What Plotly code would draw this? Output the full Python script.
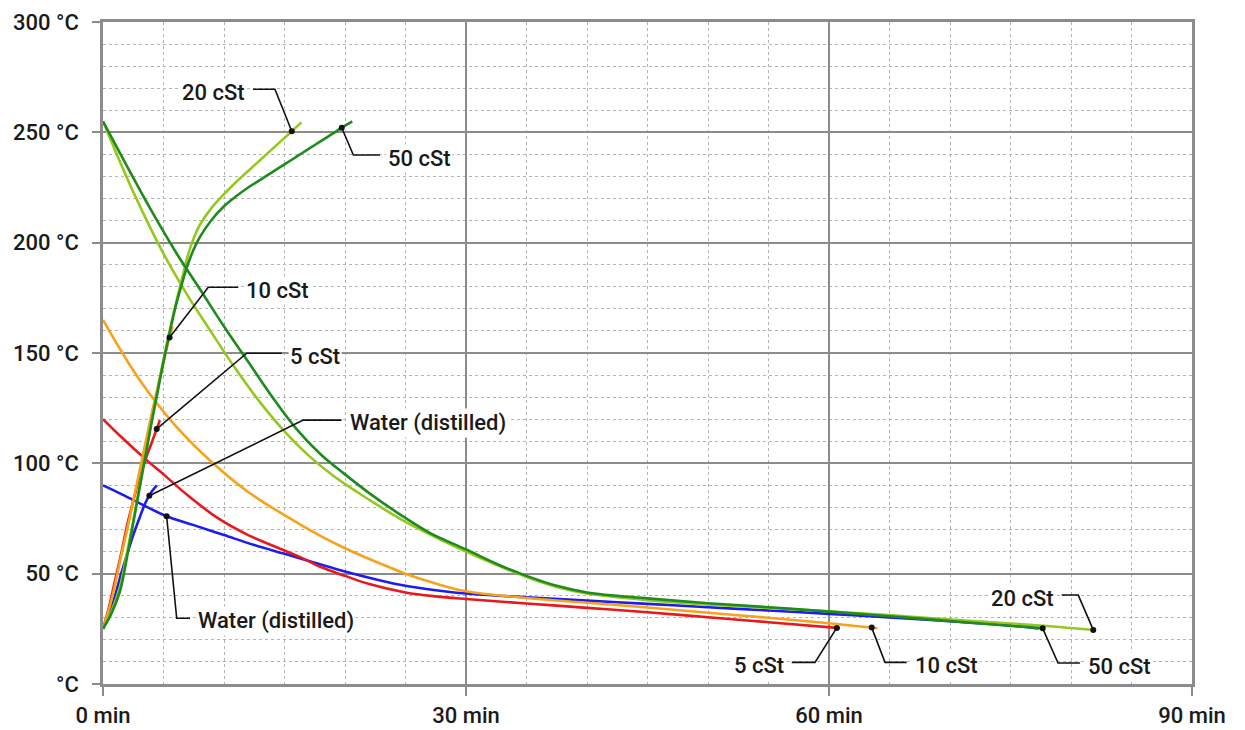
import numpy as np
import plotly.graph_objects as go

# ---------------- data ----------------
# Heating curves (time in min, temperature in °C)
water_heat_t = [0, 0.5, 1, 1.5, 2, 2.5, 3, 3.5, 4, 4.45]
water_heat_T = [25, 32, 40, 50, 59, 67.5, 75, 82, 87, 90]

cst5_heat_t = [0, 0.5, 1, 1.5, 2, 2.5, 3, 3.5, 4, 4.4, 4.7]
cst5_heat_T = [25, 35, 47, 59, 72, 83, 93, 101.5, 109, 115, 119.6]

cst10_heat_t = [0, 0.5, 1, 1.5, 2, 2.5, 3, 3.5, 4, 4.5, 5, 5.4, 5.75]
cst10_heat_T = [25, 34, 45, 58, 70, 83, 96, 109, 122, 134, 146, 155, 162]

cst20_heat_t = [0, 0.7, 1.4, 2, 2.5, 3, 3.5, 4, 4.5, 5, 5.5, 6, 6.5, 7, 7.5, 8, 9, 10,
                11, 12, 13, 14, 15, 15.6, 16.4]
cst20_heat_T = [25, 33, 44, 60, 74, 89, 104, 119, 133, 147, 160, 172, 183, 194, 202, 208,
                216, 222, 227.5, 232.5, 237.5, 242.5, 247.5, 250.5, 254.5]

cst50_heat_t = [0, 0.7, 1.4, 2, 2.5, 3, 3.5, 4, 4.5, 5, 5.5, 6, 6.5, 7, 7.5, 8, 9, 10,
                11, 12, 13, 14, 15, 16, 17, 18, 19, 20, 20.6]
cst50_heat_T = [25, 32, 42, 58, 73, 88, 103, 118, 132, 146, 159, 171, 181, 190, 197, 202.5,
                210.5, 216.5, 221, 225, 228.5, 232, 235.5, 239, 242.5, 246, 249.5, 253, 255]

# Cooling curves
water_cool_t = [0, 1.4, 3, 5.26, 7.5, 10, 12.5, 15, 17.5, 20, 22.5, 25, 27.5, 30, 35, 40,
                45, 50, 55, 60, 65, 70, 75, 77.3]
water_cool_T = [90, 86.4, 82, 76, 72, 67.5, 63, 59, 55, 51, 47.5, 44.5, 42.5, 41, 39.3,
                37.8, 36.3, 34.8, 33.3, 31.8, 30.2, 28.5, 26.5, 25.2]

cst5_cool_t = [0, 1.4, 3.7, 5, 7, 9.4, 12, 15, 16.3, 18, 20, 22, 25, 27.5, 30, 35, 40, 45,
               51, 55, 60.9]
cst5_cool_T = [120, 112.5, 101, 95, 85.5, 75.5, 67.5, 60.5, 57.5, 53, 49, 45.3, 41.5, 39.7,
               38.5, 36.5, 34.5, 32.5, 29.8, 28, 25.3]

cst10_cool_t = [0, 3, 6, 9.1, 12, 15, 18, 20, 22.5, 25, 27.5, 30, 35, 40, 45, 51, 55, 60, 64]
cst10_cool_T = [165, 138, 117, 100, 87, 76.5, 67, 61.5, 55.5, 50, 45.5, 42, 39, 36.8, 34.7,
                31.8, 30, 27.5, 25.3]

cst20_cool_t = [0, 2.5, 5, 7, 9, 11, 13, 15, 17, 19, 21, 23, 25, 27.5, 30, 32.5, 35, 37.5,
                40, 45, 50, 55, 60, 66, 72.5, 78, 81.9]
cst20_cool_T = [255, 223, 195, 176, 159, 142.5, 127.5, 114.5, 103.5, 94.5, 87, 80, 73.5,
                66.5, 60, 54, 48.5, 44, 41, 38, 36, 34.5, 33, 30.8, 28.3, 26.3, 24.5]

cst50_cool_t = [0, 2, 4, 6.1, 8, 10, 12, 14, 16, 18, 20, 22, 24.5, 27, 30, 32.5, 35, 37.5,
                40, 45, 50, 55, 60, 66, 72.5, 77.7]
cst50_cool_T = [255, 234.5, 214.5, 195, 179, 162, 146, 130, 115.5, 104, 95, 86.5, 77, 68.5,
                61, 54.5, 49, 44.5, 41.5, 38.8, 36.6, 34.8, 32.8, 30.3, 27.4, 25.2]

series_names = ["Water (distilled)", "5 cSt", "10 cSt", "20 cSt", "50 cSt"]
series_colors = ["#1c1cf0", "#e8191e", "#f7a21b", "#95c81f", "#1f8a1f"]

heat = {
    "Water (distilled)": (water_heat_t, water_heat_T),
    "5 cSt": (cst5_heat_t, cst5_heat_T),
    "10 cSt": (cst10_heat_t, cst10_heat_T),
    "20 cSt": (cst20_heat_t, cst20_heat_T),
    "50 cSt": (cst50_heat_t, cst50_heat_T),
}
cool = {
    "Water (distilled)": (water_cool_t, water_cool_T),
    "5 cSt": (cst5_cool_t, cst5_cool_T),
    "10 cSt": (cst10_cool_t, cst10_cool_T),
    "20 cSt": (cst20_cool_t, cst20_cool_T),
    "50 cSt": (cst50_cool_t, cst50_cool_T),
}

x_tick_vals = [0, 30, 60, 90]
x_tick_text = ["0 min", "30 min", "60 min", "90 min"]
y_tick_vals = [0, 50, 100, 150, 200, 250, 300]
y_tick_text = ["°C", "50 °C", "100 °C", "150 °C", "200 °C", "250 °C", "300 °C"]

# Callout labels: which curve, the time of the dot on it, leader elbow and end, text side
callouts = [
    ("20 cSt", "heat", 15.6, (14.21, 269.5), (12.40, 269.5), "left"),
    ("50 cSt", "heat", 19.73, (20.69, 239.7), (22.89, 239.7), "right"),
    ("10 cSt", "heat", 5.5, (8.70, 179.8), (11.18, 179.8), "right"),
    ("5 cSt", "heat", 4.44, (11.88, 149.9), (14.77, 149.9), "right"),
    ("Water (distilled)", "heat", 3.83, (16.55, 119.6), (19.72, 119.6), "right"),
    ("Water (distilled)", "cool", 5.26, (6.09, 29.8), (7.19, 29.8), "right"),
    ("5 cSt", "cool", 60.64, (58.84, 9.8), (56.92, 9.8), "left"),
    ("10 cSt", "cool", 63.53, (64.63, 9.8), (66.42, 9.8), "right"),
    ("20 cSt", "cool", 81.84, (80.60, 40.3), (79.23, 40.3), "left"),
    ("50 cSt", "cool", 77.66, (78.93, 9.5), (80.74, 9.5), "right"),
]

# ---------------- figure ----------------
FONT = "Roboto"
TXT = "#1a1a1a"
MAJOR = "#8c8c8c"
MINOR = "#b4b4b4"
FS = 22

fig = go.Figure()

for name, col in zip(series_names, series_colors):
    for d in (cool, heat):
        t, T = d[name]
        fig.add_trace(go.Scatter(x=t, y=T, mode="lines", name=name,
                                 line=dict(color=col, width=2.6, shape="spline", smoothing=1.0),
                                 hoverinfo="skip"))

annotations = []
for name, kind, dot_t, elbow, end, side in callouts:
    t, T = (heat if kind == "heat" else cool)[name]
    dot_T = float(np.interp(dot_t, t, T))
    fig.add_trace(go.Scatter(x=[dot_t, elbow[0], end[0]], y=[dot_T, elbow[1], end[1]],
                             mode="lines", line=dict(color="#111111", width=1.6),
                             hoverinfo="skip"))
    fig.add_trace(go.Scatter(x=[dot_t], y=[dot_T], mode="markers",
                             marker=dict(color="#111111", size=6), hoverinfo="skip"))
    annotations.append(dict(
        x=end[0], y=end[1], xref="x", yref="y", text=name, showarrow=False,
        xanchor="right" if side == "left" else "left", yanchor="middle",
        xshift=-6 if side == "left" else 6, yshift=-3,
        bgcolor="white", borderpad=1,
        font=dict(family=FONT, size=FS, color=TXT, weight=500)))

# the page body has an 8 px margin, so the figure is sized/offset to compensate
fig.update_layout(
    width=1237, height=722,
    margin=dict(l=95, r=53, t=14, b=46),
    paper_bgcolor="white", plot_bgcolor="white",
    showlegend=False,
    annotations=annotations,
    font=dict(family=FONT, size=FS, color=TXT, weight=500),
)

fig.update_xaxes(
    range=[0, 90], tickvals=x_tick_vals, ticktext=x_tick_text, automargin=False,
    showgrid=True, gridcolor=MAJOR, gridwidth=2,
    minor=dict(tick0=0, dtick=5, showgrid=True, gridcolor=MINOR, griddash="dot", gridwidth=1),
    showline=True, linecolor=MAJOR, linewidth=2.5, mirror=True,
    ticks="outside", ticklen=9, tickwidth=2, tickcolor=MAJOR,
    ticklabelstandoff=1, zeroline=False,
    tickfont=dict(family=FONT, size=FS, color=TXT, weight=500),
)
fig.update_yaxes(
    range=[0, 300], tickvals=y_tick_vals, ticktext=y_tick_text, automargin=False,
    showgrid=True, gridcolor=MAJOR, gridwidth=2,
    minor=dict(tick0=0, dtick=10, showgrid=True, gridcolor=MINOR, griddash="dot", gridwidth=1),
    showline=True, linecolor=MAJOR, linewidth=2.5, mirror=True,
    ticks="outside", ticklen=8, tickwidth=2, tickcolor=MAJOR,
    ticklabelstandoff=9, zeroline=False,
    tickfont=dict(family=FONT, size=FS, color=TXT, weight=500),
)

fig.write_html("out.html")
